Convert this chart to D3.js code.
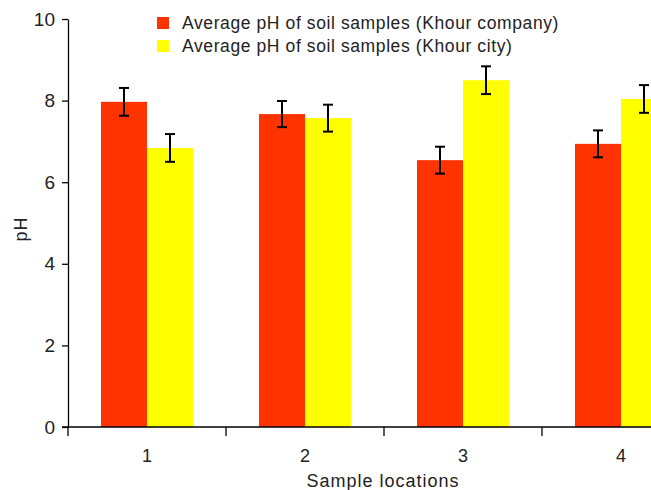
<!DOCTYPE html>
<html>
<head>
<meta charset="utf-8">
<script src="https://cdn.jsdelivr.net/npm/d3@7"></script>
<style>
  body { margin: 0; background: #fff; }
  text { font-family: "Liberation Sans", Arial, sans-serif; fill: #222; }
</style>
</head>
<body>
<div id="chart"></div>
<script>
const locations = ["1", "2", "3", "4"];
const seriesNames = [
  "Average pH of soil samples (Khour company)",
  "Average pH of soil samples (Khour city)",
];
const companyPH = [7.97, 7.67, 6.54, 6.94];
const companyErr = [0.34, 0.32, 0.33, 0.33];
const cityPH = [6.84, 7.57, 8.5, 8.04];
const cityErr = [0.34, 0.33, 0.34, 0.34];
const yTicks = [0, 2, 4, 6, 8, 10];
const colors = ["#ff3300", "#ffff00"];

const width = 651,
  height = 490;
const margin = { top: 19, left: 68, bottom: 63 };

const svg = d3
  .select("#chart")
  .append("svg")
  .attr("width", width)
  .attr("height", height);

// plot runs past the right edge, the 4th group gets cut like in the original
const x = d3
  .scaleBand()
  .domain(locations)
  .range([margin.left, margin.left + 4 * 158]);

const y = d3
  .scaleLinear()
  .domain([0, 10])
  .range([height - margin.bottom, margin.top]);

const barW = 46;

const series = [
  { vals: companyPH, errs: companyErr, color: colors[0], off: -barW },
  { vals: cityPH, errs: cityErr, color: colors[1], off: 0 },
];

series.forEach((s) => {
  const g = svg.append("g");
  g.selectAll("rect")
    .data(locations)
    .enter()
    .append("rect")
    .attr("x", (d) => x(d) + x.bandwidth() / 2 + s.off)
    .attr("width", barW)
    .attr("y", (d, i) => y(s.vals[i]))
    .attr("height", (d, i) => y(0) - y(s.vals[i]))
    .attr("fill", s.color);

  // error bars
  const eb = g
    .selectAll(".err")
    .data(locations)
    .enter()
    .append("g")
    .attr("class", "err")
    .attr("stroke", "#000")
    .attr("stroke-width", 2);
  const cx = (d) => x(d) + x.bandwidth() / 2 + s.off + barW / 2;
  eb.append("line")
    .attr("x1", cx)
    .attr("x2", cx)
    .attr("y1", (d, i) => y(s.vals[i] + s.errs[i]))
    .attr("y2", (d, i) => y(s.vals[i] - s.errs[i]));
  [1, -1].forEach((sign) => {
    eb.append("line")
      .attr("x1", (d) => cx(d) - 5)
      .attr("x2", (d) => cx(d) + 5)
      .attr("y1", (d, i) => y(s.vals[i] + sign * s.errs[i]))
      .attr("y2", (d, i) => y(s.vals[i] + sign * s.errs[i]));
  });
});

// y axis
const yAxis = svg
  .append("g")
  .attr("transform", `translate(${margin.left},0)`)
  .call(d3.axisLeft(y).tickValues(yTicks).tickSize(6).tickPadding(7).tickSizeOuter(0));
yAxis.select(".domain").attr("stroke", "#000").attr("stroke-width", 1.3);
yAxis.selectAll(".tick line").attr("stroke", "#000").attr("stroke-width", 1.3);
yAxis.selectAll("text").attr("font-size", 19).attr("fill", "#222");

// x axis: ticks between groups
const xAxis = svg.append("g").attr("transform", `translate(0,${y(0)})`);
xAxis
  .append("line")
  .attr("x1", margin.left - 6)
  .attr("x2", width)
  .attr("stroke", "#000")
  .attr("stroke-width", 1.5);
xAxis
  .selectAll(".xt")
  .data(locations)
  .enter()
  .append("line")
  .attr("x1", (d) => x(d))
  .attr("x2", (d) => x(d))
  .attr("y1", 0)
  .attr("y2", 9)
  .attr("stroke", "#000")
  .attr("stroke-width", 1.3);
xAxis
  .selectAll(".xl")
  .data(locations)
  .enter()
  .append("text")
  .attr("x", (d) => x(d) + x.bandwidth() / 2)
  .attr("y", 35)
  .attr("text-anchor", "middle")
  .attr("font-size", 18)
  .text((d) => d);

svg
  .append("text")
  .attr("x", 383)
  .attr("y", 487)
  .attr("text-anchor", "middle")
  .attr("font-size", 18)
  .attr("letter-spacing", 1)
  .text("Sample locations");

svg
  .append("text")
  .attr("transform", "translate(27,229) rotate(-90)")
  .attr("text-anchor", "middle")
  .attr("font-size", 18)
  .attr("letter-spacing", 1)
  .text("pH");

// legend
const legend = svg
  .selectAll(".legend")
  .data(seriesNames)
  .enter()
  .append("g")
  .attr("transform", (d, i) => `translate(157,${17 + i * 23})`);
legend
  .append("rect")
  .attr("width", 12)
  .attr("height", 12)
  .attr("fill", (d, i) => colors[i]);
legend
  .append("text")
  .attr("x", 25)
  .attr("y", 12)
  .attr("font-size", 17.5)
  .attr("letter-spacing", 0.6)
  .text((d) => d);
</script>
</body>
</html>
